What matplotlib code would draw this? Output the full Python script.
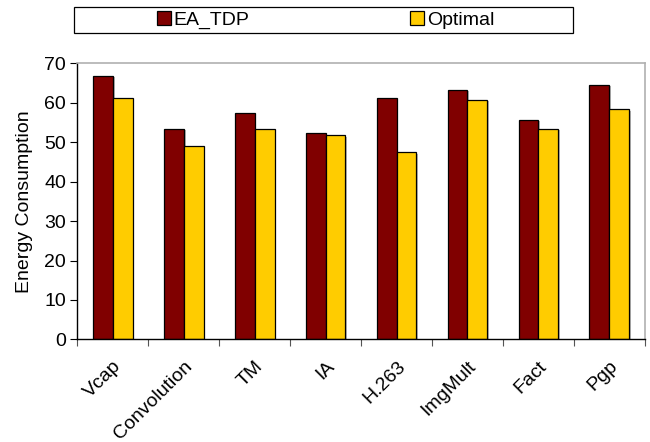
import matplotlib.pyplot as plt
from matplotlib.patches import Rectangle
import numpy as np

plt.rcParams["font.family"] = ["Liberation Sans", "DejaVu Sans"]

benchmarks = ["Vcap", "Convolution", "TM", "IA", "H.263", "ImgMult", "Fact", "Pgp"]
ea_tdp = [66.7, 53.4, 57.4, 52.2, 61.3, 63.3, 55.7, 64.4]
optimal = [61.3, 49.1, 53.4, 51.7, 47.4, 60.8, 53.3, 58.3]
series_names = ["EA_TDP", "Optimal"]

W, H = 650, 442
fig = plt.figure(figsize=(6.5, 4.42), dpi=100)
ax = fig.add_axes([0.119, 0.232, 0.873, 0.625])

x = np.arange(len(benchmarks))
w = 0.28
shadow = dict(color="#b8b8b8", linewidth=0, zorder=1)
ax.bar(x - w / 2 + 0.025, ea_tdp, w, bottom=-0.3, **shadow)
ax.bar(x + w / 2 + 0.025, optimal, w, bottom=-0.3, **shadow)
b1 = ax.bar(x - w / 2, ea_tdp, w, color="#800000", edgecolor="black", linewidth=0.9, zorder=2)
b2 = ax.bar(x + w / 2, optimal, w, color="#ffcc00", edgecolor="black", linewidth=0.9, zorder=2)

ax.set_xlim(-0.5, len(benchmarks) - 0.5)
ax.set_ylim(0, 70)
ax.set_yticks(range(0, 71, 10))
ax.set_xticks(np.arange(len(benchmarks) + 1) - 0.5)
ax.set_xticklabels([])
ax.set_xticks(x, minor=True)
ax.set_xticklabels(benchmarks, minor=True, rotation=45, ha="right", rotation_mode="anchor", fontsize=14)
ax.tick_params(axis="x", which="minor", length=0, pad=13)
ax.tick_params(axis="x", which="major", length=5, direction="out", color="#555555")
ax.tick_params(axis="y", labelsize=14, length=5, direction="out", pad=3)
ax.set_ylabel("Energy Consumption", fontsize=14, labelpad=8)

for side in ["top", "right"]:
    ax.spines[side].set_color("#b0b0b0")
    ax.spines[side].set_linewidth(1.2)
for side in ["left", "bottom"]:
    ax.spines[side].set_color("black")
    ax.spines[side].set_linewidth(1.0)

# legend box spanning the top of the figure
fig.patches.append(Rectangle((74 / W, 1 - 33 / H), 499 / W, 26 / H, transform=fig.transFigure,
                             facecolor="white", edgecolor="black", linewidth=0.9))
leg = fig.legend([b1, b2], series_names, loc="center",
                 bbox_to_anchor=(157 / W, 1 - 33 / H, 337 / W, 26 / H), mode="expand",
                 ncol=2, frameon=False, fontsize=14, borderpad=0, borderaxespad=0,
                 handlelength=0.7, handleheight=0.7, handletextpad=0.15)

fig.savefig("out.png", dpi=100)
